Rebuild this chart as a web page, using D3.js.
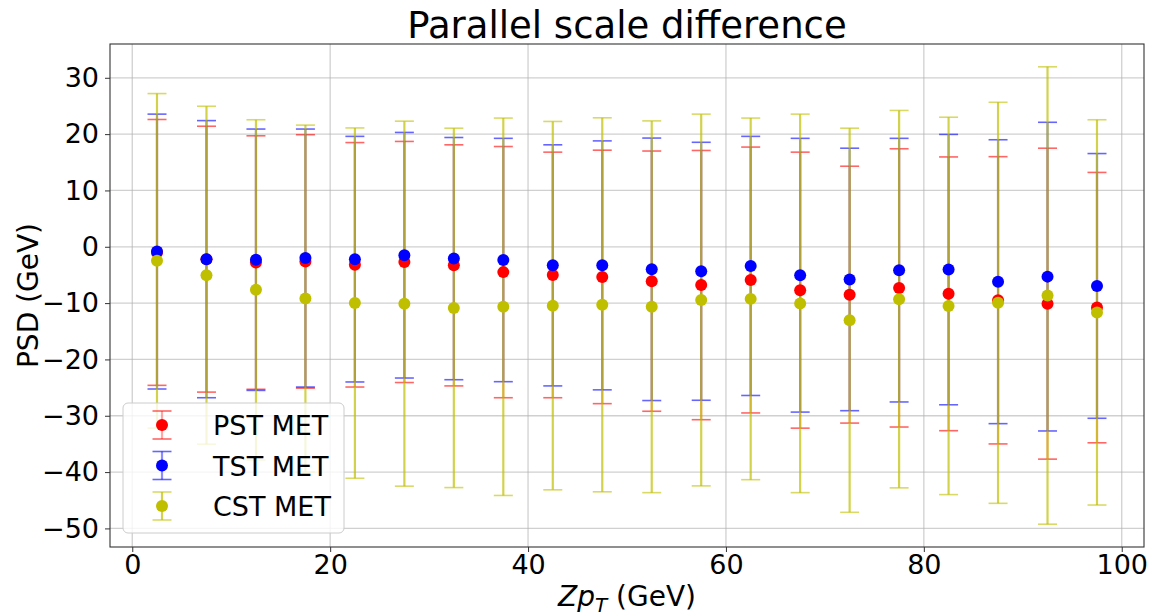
<!DOCTYPE html>
<html lang="en">
<head>
<meta charset="utf-8" />
<title>Parallel scale difference</title>
<script src="https://cdn.jsdelivr.net/npm/d3@7/dist/d3.min.js"></script>
<style>
  body { margin: 0; background: #fff; }
  svg text { font-family: "DejaVu Sans", sans-serif; fill: #000; }
</style>
</head>
<body>
<svg width="1157" height="616"></svg>
<script>
// bin centres (GeV)
var zpt = [2.5, 7.5, 12.5, 17.5, 22.5, 27.5, 32.5, 37.5, 42.5, 47.5,
           52.5, 57.5, 62.5, 67.5, 72.5, 77.5, 82.5, 87.5, 92.5, 97.5];

var pstMean = [-1.0, -2.2, -2.8, -2.6, -3.2, -2.7, -3.3, -4.5, -5.0, -5.35,
               -6.1, -6.8, -5.9, -7.7, -8.5, -7.3, -8.35, -9.5, -10.1, -10.8];
var pstErr  = [23.6, 23.6, 22.5, 22.5, 21.7, 21.4, 21.4, 22.3, 21.8, 22.5,
               23.1, 23.9, 23.6, 24.5, 22.8, 24.7, 24.3, 25.5, 27.6, 24.0];

var tstMean = [-0.85, -2.2, -2.3, -2.0, -2.2, -1.5, -2.1, -2.35, -3.3, -3.3,
               -4.0, -4.35, -3.4, -5.05, -5.8, -4.15, -4.05, -6.2, -5.3, -6.95];
var tstErr  = [24.4, 24.6, 23.2, 22.9, 21.8, 21.8, 21.5, 21.6, 21.4, 22.1,
               23.3, 22.9, 23.0, 24.3, 23.3, 23.4, 24.0, 25.2, 27.4, 23.5];

var cstMean = [-2.5, -5.05, -7.65, -9.2, -10.0, -10.1, -10.85, -10.65, -10.45, -10.3,
               -10.65, -9.45, -9.25, -10.05, -13.05, -9.3, -10.5, -9.95, -8.65, -11.65];
var cstErr  = [29.7, 30.0, 30.2, 30.8, 31.1, 32.4, 31.9, 33.5, 32.7, 33.2,
               33.0, 33.0, 32.1, 33.6, 34.1, 33.5, 33.5, 35.6, 40.6, 34.2];

var seriesNames = ["PST MET", "TST MET", "CST MET"];
var seriesColors = ["#ff0000", "#0000ff", "#bfbf00"];
var barAlpha = [0.35, 0.45, 0.7];
var xTicks = [0, 20, 40, 60, 80, 100];
var yTicks = [-50, -40, -30, -20, -10, 0, 10, 20, 30];

var series = [
  { name: seriesNames[0], color: seriesColors[0], alpha: barAlpha[0], mean: pstMean, err: pstErr },
  { name: seriesNames[1], color: seriesColors[1], alpha: barAlpha[1], mean: tstMean, err: tstErr },
  { name: seriesNames[2], color: seriesColors[2], alpha: barAlpha[2], mean: cstMean, err: cstErr }
];

var svg = d3.select("svg");
var margin = { top: 44, right: 13, bottom: 69, left: 110 };
var width = 1157 - margin.left - margin.right;
var height = 616 - margin.top - margin.bottom;

var x = d3.scaleLinear().domain([-2.25, 102.25]).range([0, width]);
var y = d3.scaleLinear().domain([-53.3, 36]).range([height, 0]);

var g = svg.append("g")
  .attr("transform", "translate(" + margin.left + "," + margin.top + ")");

// grid
g.append("g").selectAll("line").data(xTicks).enter().append("line")
  .attr("x1", function (d) { return x(d); }).attr("x2", function (d) { return x(d); })
  .attr("y1", 0).attr("y2", height)
  .attr("stroke", "#b0b0b0").attr("stroke-opacity", 0.6).attr("stroke-width", 1.3);
g.append("g").selectAll("line").data(yTicks).enter().append("line")
  .attr("y1", function (d) { return y(d); }).attr("y2", function (d) { return y(d); })
  .attr("x1", 0).attr("x2", width)
  .attr("stroke", "#b0b0b0").attr("stroke-opacity", 0.6).attr("stroke-width", 1.3);

// error bars (drawn under every marker)
var capHalf = 9.5;
series.forEach(function (s) {
  var eg = g.append("g");
  var pts = zpt.map(function (z, i) { return { x: z, m: s.mean[i], e: s.err[i] }; });
  eg.selectAll("line.bar").data(pts).enter().append("line")
    .attr("x1", function (d) { return x(d.x); }).attr("x2", function (d) { return x(d.x); })
    .attr("y1", function (d) { return y(d.m + d.e); }).attr("y2", function (d) { return y(d.m - d.e); })
    .attr("stroke", s.color).attr("stroke-opacity", s.alpha).attr("stroke-width", 2.2);
  [1, -1].forEach(function (sign) {
    eg.selectAll(null).data(pts).enter().append("line")
      .attr("x1", function (d) { return x(d.x) - capHalf; })
      .attr("x2", function (d) { return x(d.x) + capHalf; })
      .attr("y1", function (d) { return y(d.m + sign * d.e); })
      .attr("y2", function (d) { return y(d.m + sign * d.e); })
      .attr("stroke", s.color).attr("stroke-opacity", 0.6).attr("stroke-width", 1.6);
  });
});

// markers
series.forEach(function (s) {
  g.append("g").selectAll("circle").data(zpt).enter().append("circle")
    .attr("cx", function (d) { return x(d); })
    .attr("cy", function (d, i) { return y(s.mean[i]); })
    .attr("r", 6)
    .attr("fill", s.color);
});

// axes
var xAxis = g.append("g").attr("transform", "translate(0," + height + ")")
  .call(d3.axisBottom(x).tickValues(xTicks).tickSize(5).tickPadding(3));
var yAxis = g.append("g")
  .call(d3.axisLeft(y).tickValues(yTicks).tickSize(5).tickPadding(6)
    .tickFormat(function (d) { return d < 0 ? "\u2212" + Math.abs(d) : d; }));
[xAxis, yAxis].forEach(function (a) {
  a.select(".domain").remove();
  a.selectAll(".tick line").attr("stroke", "#333");
  a.selectAll(".tick text").style("font-size", "27px").attr("fill", "#000");
});

// spines
g.append("rect").attr("x", 0).attr("y", 0).attr("width", width).attr("height", height)
  .attr("fill", "none").attr("stroke", "#333").attr("stroke-width", 1.1);

// title and labels
svg.append("text").attr("x", margin.left + width / 2).attr("y", 38)
  .attr("text-anchor", "middle").style("font-size", "37px")
  .text("Parallel scale difference");

svg.append("text")
  .attr("transform", "translate(38," + (margin.top + height / 2) + ") rotate(-90)")
  .attr("text-anchor", "middle").style("font-size", "28px")
  .text("PSD (GeV)");

var xl = svg.append("text").attr("x", margin.left + width / 2).attr("y", 606)
  .attr("text-anchor", "middle").style("font-size", "28px");
xl.append("tspan").attr("font-style", "italic").text("Zp");
xl.append("tspan").attr("font-style", "italic").attr("font-size", "20px").attr("dy", 6).text("T");
xl.append("tspan").attr("dy", -6).text(" (GeV)");

// legend
var lg = svg.append("g").attr("transform", "translate(123,403)");
lg.append("rect").attr("width", 221).attr("height", 130).attr("rx", 5)
  .attr("fill", "#fff").attr("fill-opacity", 0.8)
  .attr("stroke", "#cccccc").attr("stroke-width", 1);
var rows = lg.selectAll("g.row").data(series).enter().append("g")
  .attr("transform", function (d, i) { return "translate(39," + (22 + i * 40.5) + ")"; });
rows.append("line").attr("y1", -14).attr("y2", 14)
  .attr("stroke", function (d) { return d.color; })
  .attr("stroke-opacity", function (d) { return d.alpha; }).attr("stroke-width", 2.2);
[-14, 14].forEach(function (cy) {
  rows.append("line").attr("x1", -capHalf).attr("x2", capHalf).attr("y1", cy).attr("y2", cy)
    .attr("stroke", function (d) { return d.color; }).attr("stroke-opacity", 0.6).attr("stroke-width", 1.6);
});
rows.append("circle").attr("r", 6).attr("fill", function (d) { return d.color; });
rows.append("text").attr("x", 51).attr("y", 10).style("font-size", "27px")
  .text(function (d) { return d.name; });
</script>
</body>
</html>
